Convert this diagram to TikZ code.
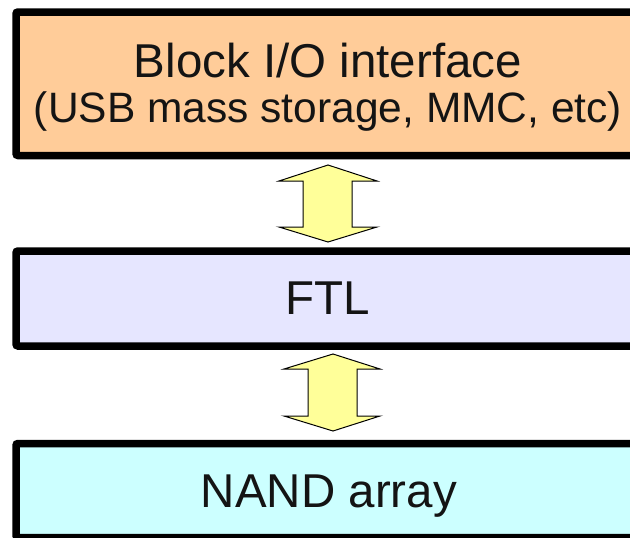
\documentclass[tikz,border=0pt]{standalone}
\usepackage{fontspec}
\setmainfont{Liberation Sans}
\definecolor{peach}{HTML}{FFCC99}
\definecolor{lavender}{HTML}{E6E6FF}
\definecolor{paleCyan}{HTML}{CCFFFF}
\definecolor{arrowYellow}{HTML}{FFFF99}
\definecolor{ink}{HTML}{141414}
\begin{document}
\begin{tikzpicture}[x=1pt,y=-1pt,
  layerbox/.style={draw=black, line width=7.5pt, rounded corners=2pt, inner sep=0pt, minimum width=640pt},
  label/.style={text=ink, inner sep=0pt, anchor=base},
  bigtext/.style={font=\fontsize{47.5}{56}\selectfont},
  smalltext/.style={font=\fontsize{42.5}{50}\selectfont},
  dblarrow/.style={draw=black, line width=1pt, fill=arrowYellow, line join=miter}]
\useasboundingbox (0,0) rectangle (630,538);
\fill[white] (0,0) rectangle (630,538);
% layer boxes
\node[layerbox, fill=peach, minimum height=143.5pt] (io) at (336,83.75) {};
\node[layerbox, fill=lavender, minimum height=95pt] (ftl) at (336,298.5) {};
\node[layerbox, fill=paleCyan, minimum height=94pt] (nand) at (336,490.5) {};
% texts
\node[label, bigtext] (iotitle) at (328,77) {Block I/O interface};
\node[label, smalltext] (iosub) at (328,122) {(USB mass storage, MMC, etc)};
\node[label, bigtext] (ftltext) at (328,314) {FTL};
\node[label, bigtext] (nandtext) at (329,507) {NAND array};
% double arrows
\draw[dblarrow] (328,165) -- (377,181) -- (352,181) -- (352,227) -- (377,227)
  -- (328,242) -- (279,227) -- (303,227) -- (303,181) -- (279,181) -- cycle;
\draw[dblarrow] (333,354) -- (380,369) -- (357,369) -- (357,416) -- (380,416)
  -- (333,431) -- (284,416) -- (308,416) -- (308,369) -- (284,369) -- cycle;
\end{tikzpicture}
\end{document}
